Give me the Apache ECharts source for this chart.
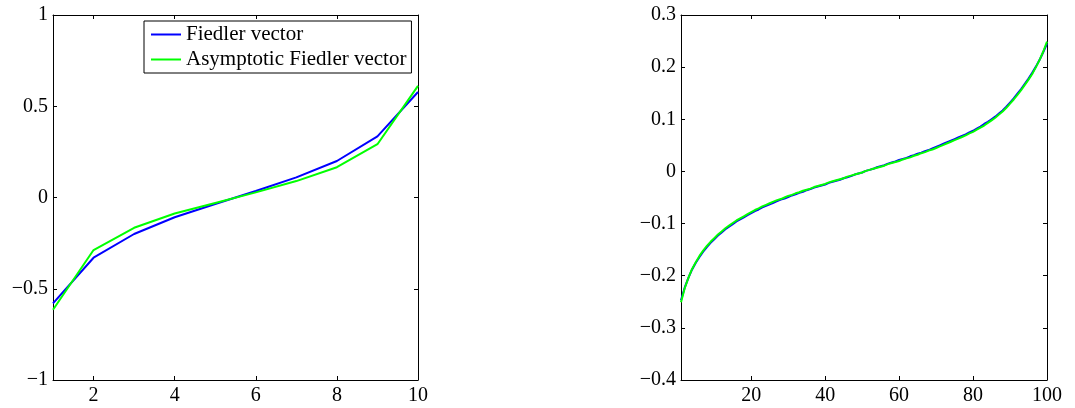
<!DOCTYPE html>
<html>
<head>
<meta charset="utf-8">
<script src="https://cdn.jsdelivr.net/npm/echarts@6/dist/echarts.min.js"></script>
<style>
  html, body { margin: 0; padding: 0; background: #ffffff; }
  #chart { width: 1075px; height: 408px; }
</style>
</head>
<body>
<div id="chart"></div>
<script>
// ---------- data ----------
const seriesNames = ['Fiedler vector', 'Asymptotic Fiedler vector'];

// Left panel (n = 10)
const leftX = [1, 2, 3, 4, 5, 6, 7, 8, 9, 10];
const leftFiedler = [-0.580, -0.330, -0.200, -0.108, -0.036, 0.036, 0.110, 0.200, 0.335, 0.578];
const leftAsymptotic = [-0.615, -0.288, -0.166, -0.088, -0.030, 0.028, 0.090, 0.166, 0.292, 0.612];

// Right panel (n = 100)
const rightFiedler = [
  -0.247, -0.223, -0.204, -0.188, -0.175, -0.164, -0.154, -0.145, -0.137, -0.130,
  -0.123, -0.117, -0.111, -0.106, -0.101, -0.096, -0.092, -0.088, -0.084, -0.080,
  -0.076, -0.073, -0.069, -0.066, -0.063, -0.060, -0.057, -0.054, -0.052, -0.049,
  -0.046, -0.044, -0.041, -0.039, -0.036, -0.034, -0.031, -0.029, -0.027, -0.025,
  -0.022, -0.020, -0.018, -0.016, -0.013, -0.011, -0.009, -0.006, -0.004, -0.002,
   0.001,  0.003,  0.005,  0.008,  0.010,  0.012,  0.015,  0.017,  0.019,  0.022,
   0.024,  0.026,  0.029,  0.031,  0.034,  0.036,  0.039,  0.041,  0.044,  0.047,
   0.050,  0.053,  0.056,  0.059,  0.062,  0.065,  0.068,  0.071,  0.075,  0.078,
   0.082,  0.086,  0.091,  0.095,  0.100,  0.105,  0.111,  0.117,  0.124,  0.132,
   0.140,  0.149,  0.158,  0.168,  0.178,  0.189,  0.201,  0.214,  0.229,  0.245
];
const rightAsymptotic = [
  -0.251, -0.224, -0.204, -0.187, -0.174, -0.162, -0.152, -0.143, -0.135, -0.128,
  -0.121, -0.115, -0.109, -0.104, -0.099, -0.094, -0.090, -0.086, -0.082, -0.078,
  -0.074, -0.071, -0.067, -0.064, -0.061, -0.058, -0.055, -0.053, -0.050, -0.047,
  -0.045, -0.042, -0.040, -0.037, -0.035, -0.033, -0.030, -0.028, -0.026, -0.024,
  -0.021, -0.019, -0.017, -0.015, -0.013, -0.010, -0.008, -0.006, -0.004, -0.002,
   0.001,  0.003,  0.005,  0.007,  0.009,  0.011,  0.014,  0.016,  0.018,  0.020,
   0.023,  0.025,  0.027,  0.030,  0.032,  0.035,  0.037,  0.040,  0.042,  0.045,
   0.048,  0.051,  0.054,  0.057,  0.060,  0.063,  0.066,  0.069,  0.073,  0.076,
   0.080,  0.084,  0.088,  0.093,  0.098,  0.103,  0.109,  0.115,  0.122,  0.130,
   0.138,  0.147,  0.156,  0.166,  0.176,  0.187,  0.200,  0.214,  0.230,  0.249
];
const rightX = rightFiedler.map((_, i) => i + 1);

// Tick labels
const leftXTicks = [2, 4, 6, 8, 10];
const rightXTicks = [20, 40, 60, 80, 100];
const leftYTicks = [-1, -0.5, 0, 0.5, 1];
const rightYTicks = [-0.4, -0.3, -0.2, -0.1, 0, 0.1, 0.2, 0.3];

// ---------- chart ----------
const FONT = 'Liberation Serif';
const fmt = v => {
  const r = Math.round(v * 10) / 10;
  if (Math.abs(r) < 1e-9) return '0';
  return String(r).replace('-', '\u2212');
};

function xAxis(grid, min, max, ticks, pos, showLabel) {
  return {
    type: 'value', gridIndex: grid, min: min, max: max, position: pos,
    axisLine: { show: true, onZero: false, lineStyle: { color: '#000', width: 1 } },
    axisTick: { show: true, inside: true, length: 4, customValues: ticks, lineStyle: { color: '#000' } },
    axisLabel: { show: showLabel, customValues: ticks, margin: 6, color: '#000',
      fontFamily: FONT, fontSize: 20, formatter: fmt },
    splitLine: { show: false }
  };
}
function yAxis(grid, min, max, ticks, pos, showLabel) {
  return {
    type: 'value', gridIndex: grid, min: min, max: max, position: pos,
    axisLine: { show: true, onZero: false, lineStyle: { color: '#000', width: 1 } },
    axisTick: { show: true, inside: true, length: 4, customValues: ticks, lineStyle: { color: '#000' } },
    axisLabel: { show: showLabel, customValues: ticks, margin: 5, color: '#000',
      fontFamily: FONT, fontSize: 20, formatter: fmt },
    splitLine: { show: false }
  };
}

const pairs = (xs, ys) => xs.map((x, i) => [x, ys[i]]);

const chart = echarts.init(document.getElementById('chart'), null, { renderer: 'canvas' });
chart.setOption({
  animation: false,
  backgroundColor: '#ffffff',
  grid: [
    { left: 53, top: 15, width: 365, height: 365 },
    { left: 681, top: 15, width: 366, height: 365 }
  ],
  xAxis: [
    xAxis(0, 1, 10, leftXTicks, 'bottom', true),
    xAxis(0, 1, 10, leftXTicks, 'top', false),
    xAxis(1, 1, 100, rightXTicks, 'bottom', true),
    xAxis(1, 1, 100, rightXTicks, 'top', false)
  ],
  yAxis: [
    yAxis(0, -1, 1, leftYTicks, 'left', true),
    yAxis(0, -1, 1, leftYTicks, 'right', false),
    yAxis(1, -0.4, 0.3, rightYTicks, 'left', true),
    yAxis(1, -0.4, 0.3, rightYTicks, 'right', false)
  ],
  legend: {
    show: true,
    data: seriesNames,
    orient: 'vertical',
    left: 144, top: 21,
    padding: [3, 5, 3, 7],
    icon: 'rect',
    itemWidth: 30, itemHeight: 2, itemGap: 4,
    borderColor: '#000', borderWidth: 1, borderRadius: 0,
    backgroundColor: '#fff',
    textStyle: { fontFamily: FONT, fontSize: 21, color: '#000', lineHeight: 21 }
  },
  series: [
    { name: seriesNames[0], type: 'line', xAxisIndex: 0, yAxisIndex: 0,
      data: pairs(leftX, leftFiedler), symbol: 'none',
      lineStyle: { color: '#0000ff', width: 2 }, itemStyle: { color: '#0000ff' } },
    { name: seriesNames[1], type: 'line', xAxisIndex: 0, yAxisIndex: 0,
      data: pairs(leftX, leftAsymptotic), symbol: 'none',
      lineStyle: { color: '#00ff00', width: 2 }, itemStyle: { color: '#00ff00' } },
    { name: seriesNames[0], type: 'line', xAxisIndex: 2, yAxisIndex: 2,
      data: pairs(rightX, rightFiedler), symbol: 'none',
      lineStyle: { color: '#0000ff', width: 2 }, itemStyle: { color: '#0000ff' } },
    { name: seriesNames[1], type: 'line', xAxisIndex: 2, yAxisIndex: 2,
      data: pairs(rightX, rightAsymptotic), symbol: 'none',
      lineStyle: { color: '#00ff00', width: 2 }, itemStyle: { color: '#00ff00' } }
  ]
});
</script>
</body>
</html>
